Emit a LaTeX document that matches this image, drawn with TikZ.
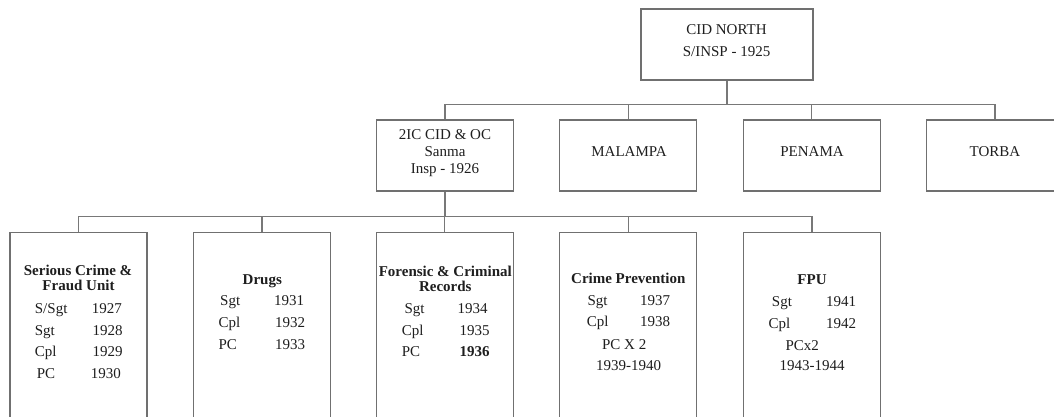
\documentclass[tikz,border=0pt]{standalone}
\usepackage{fontspec}
\setmainfont{Liberation Serif}
\definecolor{boxgray}{RGB}{112,112,112}
\definecolor{linegray}{RGB}{120,120,120}
\definecolor{txt}{RGB}{30,30,30}
\begin{document}
\begin{tikzpicture}[x=1pt,y=-1pt,
  box/.style={draw=boxgray,line width=1.1pt,minimum width=137pt,minimum height=71pt,inner sep=0pt},
  tallbox/.style={draw=boxgray,line width=1.1pt,minimum width=137pt,minimum height=210pt,inner sep=0pt},
  conn/.style={draw=linegray,line width=1.1pt},
  tc/.style={anchor=base,inner sep=0pt,text=txt,font=\fontsize{15}{17}\selectfont},
  tl/.style={anchor=base west,inner sep=0pt,text=txt,font=\fontsize{15}{17}\selectfont},
  hd/.style={anchor=base,inner sep=0pt,text=txt,font=\fontsize{15}{17}\selectfont\bfseries}]
\useasboundingbox (0,0) rectangle (1054,417);
\clip (0,0) rectangle (1054,417);
% boxes
\node[box,minimum width=172pt] (top) at (727,44.5) {};
\node[box] (ic) at (445,155.5) {};
\node[box] (mal) at (628.3,155.5) {};
\node[box] (pen) at (811.8,155.5) {};
\node[box] (tor) at (995,155.5) {};
\node[tallbox] (scf) at (78.5,337.7) {};
\node[tallbox] (drg) at (262,337.7) {};
\node[tallbox] (for) at (444.8,337.7) {};
\node[tallbox] (cpv) at (628.2,337.7) {};
\node[tallbox] (fpu) at (812,337.7) {};
% connectors
\foreach \c in {ic,mal,pen,tor}
  \draw[conn] (top.south) -- ++(0,24) -| (\c.north);
\foreach \c in {scf,drg,for,cpv,fpu}
  \draw[conn] (ic.south) -- ++(0,25.3) -| (\c.north);
% top box text
\node[tc] (t1) at (726.5,34.3) {CID NORTH};
\node[tc] (t2) at (726.5,56.7) {S/INSP - 1925};
% second row
\node[tc] (i1) at (445,139.5) {2IC CID \& OC};
\node[tc] (i2) at (445,156.7) {Sanma};
\node[tc] (i3) at (445,173.5) {Insp - 1926};
\node[tc] (m1) at (629,156.7) {MALAMPA};
\node[tc] (p1) at (812,156.7) {PENAMA};
\node[tc] (r1) at (995,156.7) {TORBA};
% serious crime
\node[hd] (s0) at (78,275) {Serious Crime \&};
\node[hd] (s00) at (78.5,290.7) {Fraud Unit};
\node[tl] (s1) at (34.7,313.3) {S/Sgt};
\node[tl] (s1y) at (91.7,313.3) {1927};
\node[tl] (s2) at (34.7,335) {Sgt};
\node[tl] (s2y) at (92.3,335) {1928};
\node[tl] (s3) at (34.7,356.7) {Cpl};
\node[tl] (s3y) at (92.3,356.7) {1929};
\node[tl] (s4) at (36.7,378.3) {PC};
\node[tl] (s4y) at (90.7,378.3) {1930};
% drugs
\node[hd] (d0) at (262.3,284) {Drugs};
\node[tl] (d1) at (220,305) {Sgt};
\node[tl] (d1y) at (274,305) {1931};
\node[tl] (d2) at (218.3,327.3) {Cpl};
\node[tl] (d2y) at (275,327.3) {1932};
\node[tl] (d3) at (218.3,349.3) {PC};
\node[tl] (d3y) at (275,349.3) {1933};
% forensic
\node[hd] (f0) at (445.3,276.7) {Forensic \& Criminal};
\node[hd] (f00) at (445.3,291.7) {Records};
\node[tl] (f1) at (404.3,313.3) {Sgt};
\node[tl] (f1y) at (457.3,313.3) {1934};
\node[tl] (f2) at (401.7,335) {Cpl};
\node[tl] (f2y) at (459.3,335) {1935};
\node[tl] (f3) at (401.7,356.7) {PC};
\node[tl,font=\fontsize{15}{17}\selectfont\bfseries] (f3y) at (459.3,356.7) {1936};
% crime prevention
\node[hd] (c0) at (628.3,283.3) {Crime Prevention};
\node[tl] (c1) at (587.3,305) {Sgt};
\node[tl] (c1y) at (640,305) {1937};
\node[tl] (c2) at (586.7,326.7) {Cpl};
\node[tl] (c2y) at (640,326.7) {1938};
\node[tc] (c3) at (624.2,349) {PC X 2};
\node[tc] (c4) at (628.5,370.7) {1939-1940};
% FPU
\node[hd] (u0) at (812,284.3) {FPU};
\node[tl] (u1) at (771.7,306) {Sgt};
\node[tl] (u1y) at (826,306) {1941};
\node[tl] (u2) at (768.3,328.3) {Cpl};
\node[tl] (u2y) at (826,328.3) {1942};
\node[tc] (u3) at (802.3,350) {PCx2};
\node[tc] (u4) at (812,370.7) {1943-1944};
\end{tikzpicture}
\end{document}
